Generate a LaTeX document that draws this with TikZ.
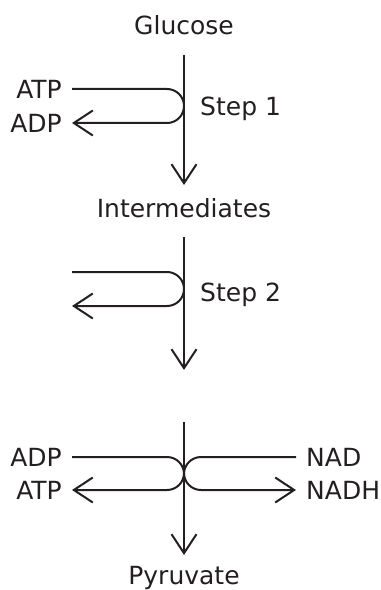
\documentclass[tikz,border=0pt]{standalone}
\usepackage{fontspec}
\setmainfont{DejaVu Sans}
\usetikzlibrary{arrows.meta}
\definecolor{ink}{HTML}{231F20}
\tikzset{
	lbl/.style={text=ink, font=\fontsize{25bp}{30bp}\selectfont, inner xsep=10bp, inner ysep=0pt},
	flow/.style={draw=ink, line width=2bp, -{Straight Barb[length=19bp,width=25bp,line width=2bp]}},
	uturn/.style={flow, rounded corners=17bp}
}
\begin{document}
\begin{tikzpicture}[x=1bp,y=-1bp]
	\useasboundingbox (0,0) rectangle (380,590);
	
	\node[lbl] (glucose) at (184,25) {Glucose};
	\node[lbl] (inter) at (184,208) {Intermediates};
	\node[lbl] (pyruvate) at (184,578) {Pyruvate};
	
	% step 1
	\coordinate (s1top) at (184,55);
	\coordinate (s1end) at (184,185);
	\draw[flow] (s1top) -- (s1end);
	\node[lbl, anchor=east] (atp1) at (72,89) {ATP};
	\node[lbl, anchor=east] (adp1) at (72,123) {ADP};
	\draw[uturn] (atp1.east) -- (atp1.east -| s1top) -- (adp1.east -| s1top) -- (adp1.east);
	\node[lbl, anchor=base west] (step1) at (190,116) {Step 1};
	
	% step 2
	\coordinate (s2top) at (184,237);
	\coordinate (s2end) at (184,370);
	\draw[flow] (s2top) -- (s2end);
	\coordinate (in2) at (72,272);
	\coordinate (out2) at (72,306);
	\draw[uturn] (in2) -- (in2 -| s2top) -- (out2 -| s2top) -- (out2);
	\node[lbl, anchor=base west] (step2) at (190,301) {Step 2};
	
	% last step
	\coordinate (s3top) at (184,422);
	\coordinate (s3end) at (184,555);
	\draw[flow] (s3top) -- (s3end);
	\node[lbl, anchor=east] (adp3) at (72,457) {ADP};
	\node[lbl, anchor=east] (atp3) at (72,490) {ATP};
	\node[lbl, anchor=west] (nad) at (296,457) {NAD};
	\node[lbl, anchor=west] (nadh) at (296,490) {NADH};
	\draw[uturn] (adp3.east) -- (adp3.east -| s3top) -- (atp3.east -| s3top) -- (atp3.east);
	\draw[uturn] (nad.west) -- (nad.west -| s3top) -- (nadh.west -| s3top) -- (nadh.west);
\end{tikzpicture}
\end{document}
